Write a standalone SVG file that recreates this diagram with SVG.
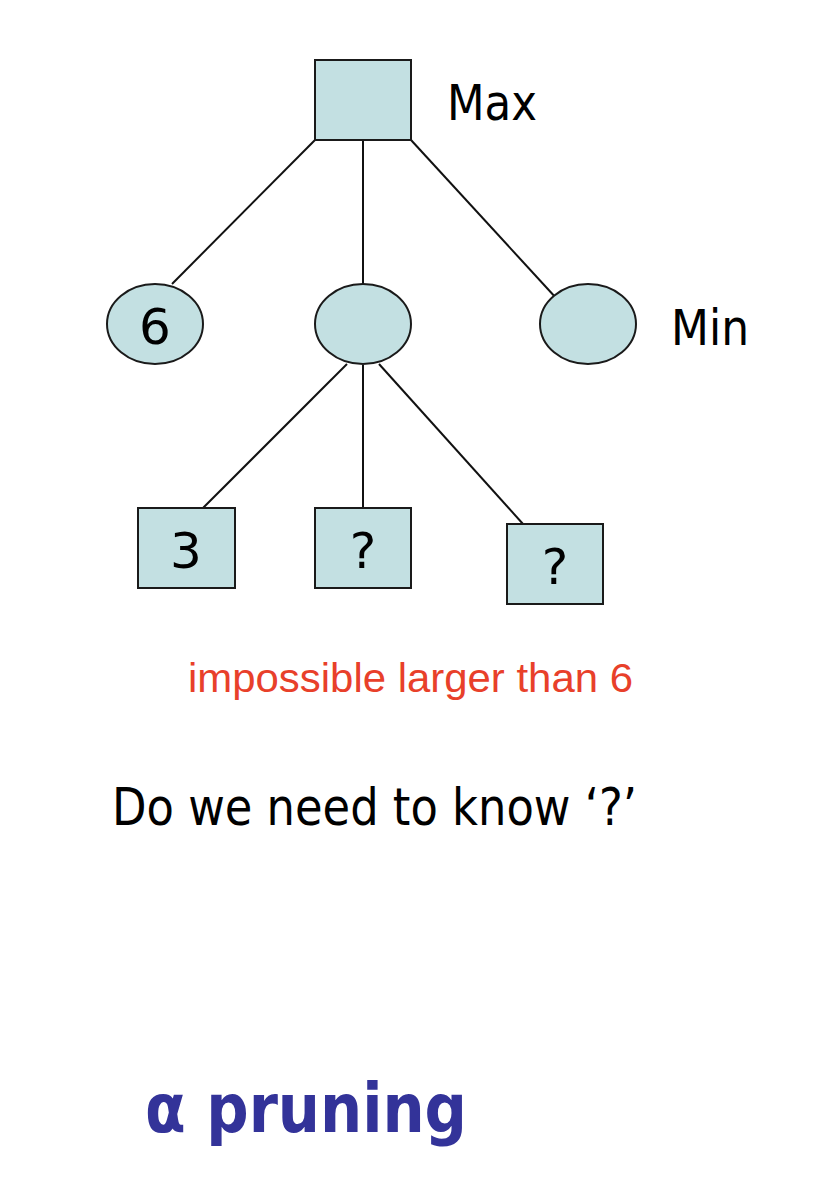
<svg xmlns="http://www.w3.org/2000/svg" width="816" height="1178" viewBox="0 0 816 1178">
<style>
.n{fill:#C3E0E2;stroke:#1a1a1a;stroke-width:2}
.e{stroke:#111;stroke-width:2;fill:none}
.t{font-family:"DejaVu Sans","Liberation Sans",sans-serif;fill:#000}
.r{font-family:"Liberation Sans",Arial,sans-serif;fill:#E8402A}
.b{font-family:"DejaVu Sans","Liberation Sans",sans-serif;font-weight:bold;fill:#333399}
</style>
<rect width="816" height="1178" fill="#fff"/>
<g id="edges">
<line class="e" x1="315" y1="140" x2="172" y2="284"/>
<line class="e" x1="363" y1="140" x2="363" y2="285"/>
<line class="e" x1="411" y1="140" x2="557" y2="299"/>
<line class="e" x1="347" y1="364" x2="203" y2="508"/>
<line class="e" x1="363" y1="365" x2="363" y2="508"/>
<line class="e" x1="379" y1="364" x2="523" y2="524"/>
</g>
<g id="root"><rect class="n" x="315" y="60" width="96" height="80"/></g>
<g id="min1"><ellipse class="n" cx="155" cy="324" rx="48" ry="40"/><text class="t" x="155" y="344" font-size="50" text-anchor="middle">6</text></g>
<g id="min2"><ellipse class="n" cx="363" cy="324" rx="48" ry="40"/></g>
<g id="min3"><ellipse class="n" cx="588" cy="324" rx="48" ry="40"/></g>
<g id="leaf1"><rect class="n" x="138" y="508" width="97" height="80"/><text class="t" x="186" y="568" font-size="50" text-anchor="middle">3</text></g>
<g id="leaf2"><rect class="n" x="315" y="508" width="96" height="80"/><text class="t" x="363" y="568" font-size="50" text-anchor="middle">?</text></g>
<g id="leaf3"><rect class="n" x="507" y="524" width="96" height="80"/><text class="t" x="555" y="584" font-size="50" text-anchor="middle">?</text></g>
<g id="labels">
<text class="t" x="447" y="120" font-size="50" textLength="90" lengthAdjust="spacingAndGlyphs">Max</text>
<text class="t" x="671" y="345" font-size="50" textLength="78" lengthAdjust="spacingAndGlyphs">Min</text>
<text class="r" x="188" y="692" font-size="41" textLength="445" lengthAdjust="spacingAndGlyphs">impossible larger than 6</text>
<text class="t" x="112" y="825" font-size="51" textLength="525" lengthAdjust="spacingAndGlyphs">Do we need to know ‘?’</text>
<text class="b" x="145" y="1132" font-size="68" textLength="322" lengthAdjust="spacingAndGlyphs">α pruning</text>
</g>
</svg>
